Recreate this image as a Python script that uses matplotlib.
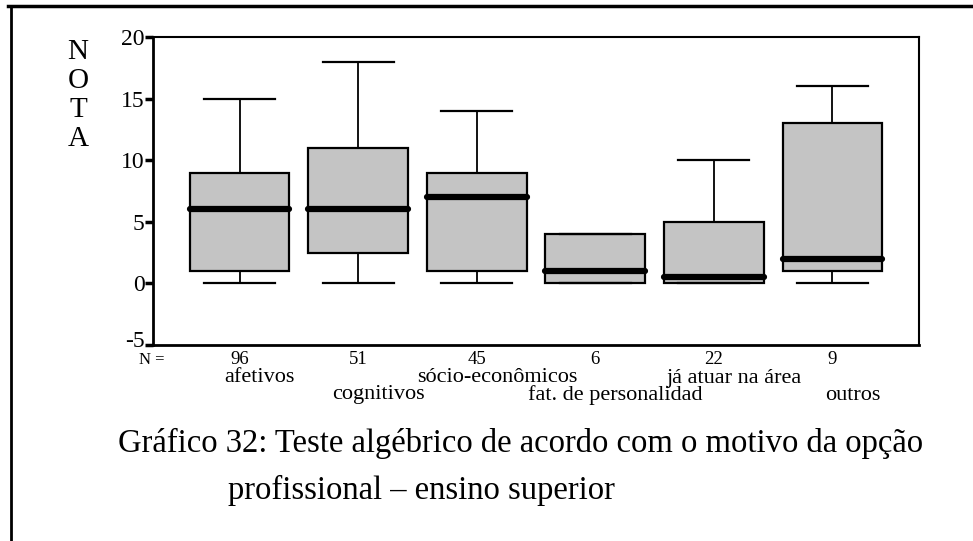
import matplotlib
matplotlib.use("Agg")
import matplotlib.pyplot as plt
from matplotlib.lines import Line2D
from matplotlib.transforms import ScaledTranslation

categories = ["afetivos", "cognitivos", "sócio-econômicos", "fat. de personalidad",
              "já atuar na área", "outros"]
n_values = [96, 51, 45, 6, 22, 9]
whisker_low = [0, 0, 0, 0, 0, 0]
q1 = [1, 2.5, 1, 0, 0, 1]
median = [6, 6, 7, 1, 0.5, 2]
q3 = [9, 11, 9, 4, 5, 13]
whisker_high = [15, 18, 14, 4, 10, 16]
yticks = [-5, 0, 5, 10, 15, 20]

serif = ["Liberation Serif", "DejaVu Serif"]
plt.rcParams["font.family"] = serif

W, H = 973, 541
fig = plt.figure(figsize=(W / 100, H / 100), dpi=100)
ax = fig.add_axes([153 / W, 1 - 345 / H, 766 / W, 308 / H])


def fy(py):
    return 1 - py / H


stats = []
for i in range(len(categories)):
    stats.append(dict(whislo=whisker_low[i], q1=q1[i], med=median[i], q3=q3[i],
                      whishi=whisker_high[i], fliers=[], label=categories[i]))
positions = list(range(1, len(categories) + 1))
ax.bxp(stats, positions=positions, widths=0.84, patch_artist=True, showfliers=False,
       capwidths=0.6,
       boxprops=dict(facecolor="#c4c4c4", edgecolor="black", linewidth=1.6),
       medianprops=dict(color="black", linewidth=4.5, solid_capstyle="round"),
       whiskerprops=dict(color="black", linewidth=1.3),
       capprops=dict(color="black", linewidth=1.6))

ax.set_xlim(0.27, 6.73)
ax.set_ylim(-5, 20)
ax.set_yticks(yticks)
ax.set_yticklabels([str(t) for t in yticks], fontsize=17)
ax.set_xticks([])
ax.tick_params(axis="y", direction="out", length=6, width=2.5, pad=0)
for s in ["left", "bottom"]:
    ax.spines[s].set_linewidth(2)
for s in ["top", "right"]:
    ax.spines[s].set_linewidth(1.5)

# the lowest tick label sits a little above its tick, as in the reference
lab0 = ax.get_yticklabels()[0]
lab0.set_transform(lab0.get_transform() + ScaledTranslation(0, 6 / 100, fig.dpi_scale_trans))

# Y label stacked letters
for k, ch in enumerate("NOTA"):
    fig.text(78 / W, fy(52 + k * 29), ch, fontsize=21, ha="center", va="center")

# N row
trans = ax.get_xaxis_transform()
fig.text(152 / W, fy(360), "N =", fontsize=12, ha="center", va="center")
n_y = -14 / 308
for p, n in zip(positions, n_values):
    ax.text(p, n_y, str(n), transform=trans, fontsize=13.5, ha="center", va="center")

# category labels, staggered
for i, (p, c) in enumerate(zip(positions, categories)):
    y = -33 / 308 if i % 2 == 0 else -50 / 308
    ax.text(p + 0.17, y, c, transform=trans, fontsize=16, ha="center", va="center")

# caption
fig.text(118 / W, fy(443), "Gráfico 32: Teste algébrico de acordo com o motivo da opção",
         fontsize=23.5, ha="left", va="center")
fig.text(228 / W, fy(490), "profissional – ensino superior",
         fontsize=23.5, ha="left", va="center")

# outer frame lines (top and left)
fig.add_artist(Line2D([8 / W, 1.0], [fy(6), fy(6)], color="black", linewidth=2.5,
                      transform=fig.transFigure))
fig.add_artist(Line2D([11 / W, 11 / W], [fy(6), 0], color="black", linewidth=2,
                      transform=fig.transFigure))

fig.savefig("out.png", dpi=100)
